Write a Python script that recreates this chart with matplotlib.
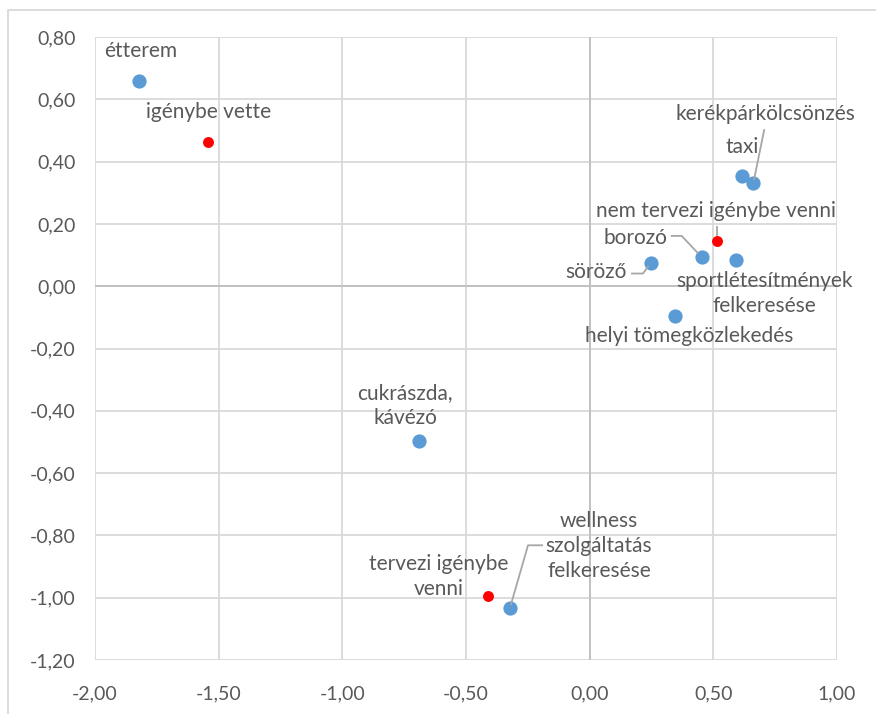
import numpy as np
import matplotlib.pyplot as plt
from matplotlib.lines import Line2D

# category points (blue)
cat_labels = ["étterem", "kerékpárkölcsönzés", "taxi", "borozó", "söröző",
              "sportlétesítmények\nfelkeresése", "helyi tömegközlekedés",
              "cukrászda,\nkávézó", "wellness\nszolgáltatás\nfelkeresése"]
cat_x = [-1.822, 0.661, 0.617, 0.453, 0.248, 0.591, 0.345, -0.690, -0.322]
cat_y = [0.658, 0.331, 0.353, 0.094, 0.076, 0.083, -0.095, -0.498, -1.034]

# usage points (red)
use_labels = ["igénybe vette", "nem tervezi igénybe venni", "tervezi igénybe\nvenni"]
use_x = [-1.543, 0.516, -0.412]
use_y = [0.462, 0.145, -0.995]

x_ticks = [-2.0, -1.5, -1.0, -0.5, 0.0, 0.5, 1.0]
y_ticks = [-1.2, -1.0, -0.8, -0.6, -0.4, -0.2, 0.0, 0.2, 0.4, 0.6, 0.8]

# label offsets (pixels, from the point to the text centre)
cat_off = [(2, 30), (12, 69), (0, 29), (-66, 19), (-55, -9),
           (29, -33), (14, -20), (-14, 36), (89, 62)]
use_off = [(1, 30), (-1, 30), (-49, 20)]

# leader lines (pixel offsets from the point)
leaders = {
    "kerékpárkölcsönzés": [(11, 53), (1, 4)],
    "borozó": [(-30, 21), (-20, 21), (-4, 4)],
    "söröző": [(-19, -11), (-8, -11), (-3, -4)],
    "wellness\nszolgáltatás\nfelkeresése": [(32, 63), (18, 63), (1, 4)],
    "nem tervezi igénybe venni": [(0, 14), (0, 6)],
}

plt.rcParams['font.family'] = ['Lato', 'DejaVu Sans']
text_col = '#595959'
grid_col = '#d9d9d9'

fig = plt.figure(figsize=(8.76, 7.14), dpi=100)
ax = fig.add_axes([95 / 876, 54 / 714, 742 / 876, 623 / 714])

ax.set_xlim(-2.0, 1.0)
ax.set_ylim(-1.2, 0.8)
ax.set_xticks(x_ticks)
ax.set_yticks(y_ticks)
ax.set_xticklabels([f"{v:.2f}".replace('.', ',') for v in x_ticks])
ax.set_yticklabels([f"{v:.2f}".replace('.', ',') for v in y_ticks])
ax.tick_params(length=0, labelsize=14, colors=text_col)
ax.tick_params(axis='x', pad=18)
ax.tick_params(axis='y', pad=14)
ax.grid(True, color=grid_col, linewidth=1.3)
for s in ax.spines.values():
    s.set_visible(False)
ax.axhline(0, color='#bfbfbf', linewidth=1.3, zorder=1)
ax.axvline(0, color='#bfbfbf', linewidth=1.3, zorder=1)
ax.set_axisbelow(True)

ax.scatter(cat_x, cat_y, s=105, color='#5b9bd5', zorder=3, linewidths=0)
ax.scatter(use_x, use_y, s=62, color='#ff0000', zorder=3, linewidths=0)

fig.canvas.draw()
for labels, xs, ys, offs in [(cat_labels, cat_x, cat_y, cat_off),
                             (use_labels, use_x, use_y, use_off)]:
    for lab, x, y, off in zip(labels, xs, ys, offs):
        ax.annotate(lab, (x, y), xytext=off, textcoords='offset pixels',
                    ha='center', va='center', fontsize=15, color=text_col,
                    linespacing=1.3, zorder=4)
        if lab in leaders:
            px, py = ax.transData.transform((x, y))
            pts = leaders[lab]
            fig.add_artist(Line2D([px + dx for dx, dy in pts],
                                  [py + dy for dx, dy in pts],
                                  transform=None, color='#a6a6a6',
                                  linewidth=1.3, zorder=5))

# chart frame
fig.add_artist(Line2D([8 / 876, 8 / 876, 1.0], [0.0, 1 - 10 / 714, 1 - 10 / 714],
                      transform=fig.transFigure, color=grid_col, linewidth=1.3))

fig.savefig('out.png', dpi=100)
